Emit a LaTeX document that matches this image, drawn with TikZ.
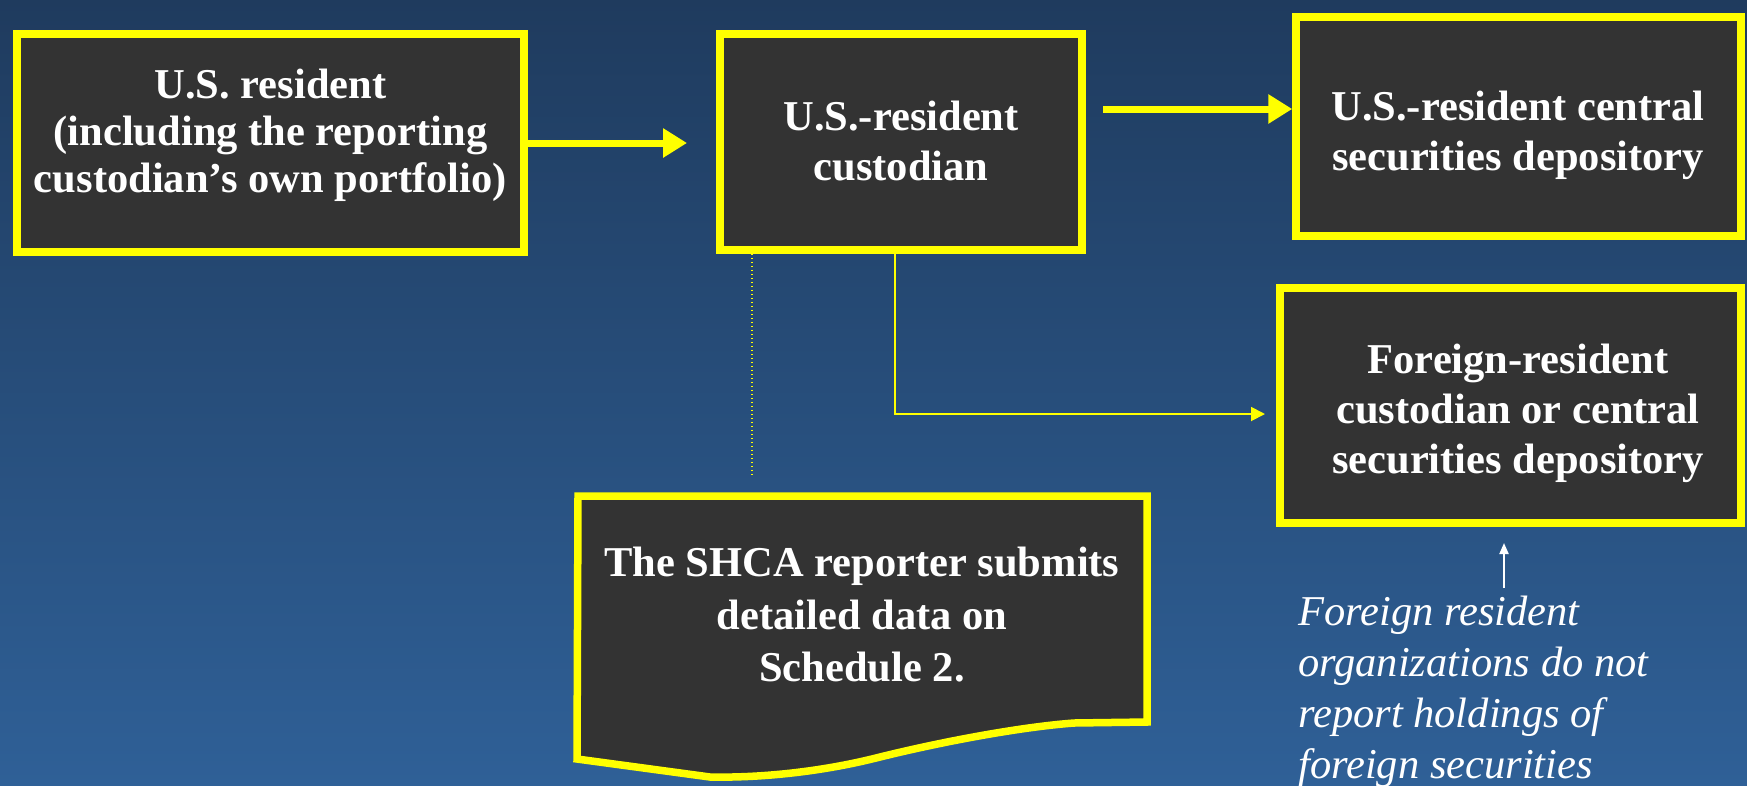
\documentclass[tikz,border=0pt]{standalone}
\usepackage{fontspec}
\setmainfont{Liberation Serif}
\usetikzlibrary{arrows.meta,calc}
\definecolor{bgtop}{HTML}{1F3B5E}
\definecolor{bgbot}{HTML}{2F6097}
\definecolor{boxfill}{HTML}{333333}
\definecolor{hiyellow}{HTML}{FFFF00}
\begin{document}
\begin{tikzpicture}[x=1pt,y=-1pt,
  box/.style={draw=hiyellow, line width=7.5pt, fill=boxfill, rectangle, inner sep=0pt},
  boxtext/.style={text=white, font={\bfseries\fontsize{42.5}{#1}\selectfont}, align=center, inner sep=0pt},
  boxtext/.default=50,
  note/.style={text=white, font={\itshape\fontsize{42.5}{51}\selectfont}, align=left, inner sep=0pt},
  bigarrow/.style={draw=hiyellow, line width=7pt, -{Triangle[length=24pt,width=28pt]}},
  thinarrow/.style={draw=hiyellow, line width=1.8pt, -{Triangle[length=14pt,width=14pt]}},
  dotline/.style={draw=hiyellow, line width=1.5pt, dash pattern=on 1.5pt off 2.5pt},
  notearrow/.style={draw=white, line width=2pt, -{Triangle[length=11pt,width=9pt]}},
  docshape/.style={draw=hiyellow, line width=7.5pt, fill=boxfill, line join=miter}
]
% page and background
\useasboundingbox (0,0) rectangle (1747,785);
\shade[top color=bgtop, bottom color=bgbot] (0,0) rectangle (1747,785);

% boxes
\node[box, minimum width=507pt, minimum height=218pt] (usres) at (270.5,143) {};
\node[boxtext=47] (usres-t) at (270.5,135) {U.S. resident\\(including the reporting\\custodian’s own portfolio)};

\node[box, minimum width=362pt, minimum height=216pt] (cust) at (901,142) {};
\node[boxtext] (cust-t) at (901,141.5) {U.S.-resident\\custodian};

\node[box, minimum width=445pt, minimum height=219pt] (uscsd) at (1518.5,126.5) {};
\node[boxtext] (uscsd-t) at (1518,135) {U.S.-resident central\\securities depository};

\node[box, minimum width=461pt, minimum height=235pt] (frcust) at (1510.5,405.5) {};
\node[boxtext] (frcust-t) at (1518,413) {Foreign-resident\\custodian or central\\securities depository};

% document-shaped box
\draw[docshape] (578,496) -- (1147,496) -- (1147,722) -- (1074,723)
  .. controls (1020,727) and (940,742) .. (876,758)
  .. controls (820,772) and (760,778) .. (710,777)
  -- (577,759) -- cycle;
\node[boxtext=52.5] (doc) at (862,615) {The SHCA reporter submits\\detailed data on\\Schedule 2.};

% connectors
\coordinate (a1tip) at (687,143);
\draw[bigarrow] (usres.east) -- (a1tip);

\coordinate (a2tail) at (1103,109);
\draw[bigarrow] (a2tail) -- (a2tail -| uscsd.west);

\coordinate (drop) at (895,414);
\coordinate (c2tip) at (1265,414);
\draw[thinarrow] (cust.south -| drop) -- (drop) -- (c2tip);

\coordinate (dotend) at (752,477);
\draw[dotline] (cust.south -| dotend) -- (dotend);

% note below the foreign box
\node[note, anchor=north west] (note) at (1298,596) {Foreign resident\\organizations do not\\report holdings of\\foreign securities};
\coordinate (wtail) at (1504,588);
\coordinate (wtip) at (1504,543);
\draw[notearrow] (wtail) -- (wtip);
\end{tikzpicture}
\end{document}
